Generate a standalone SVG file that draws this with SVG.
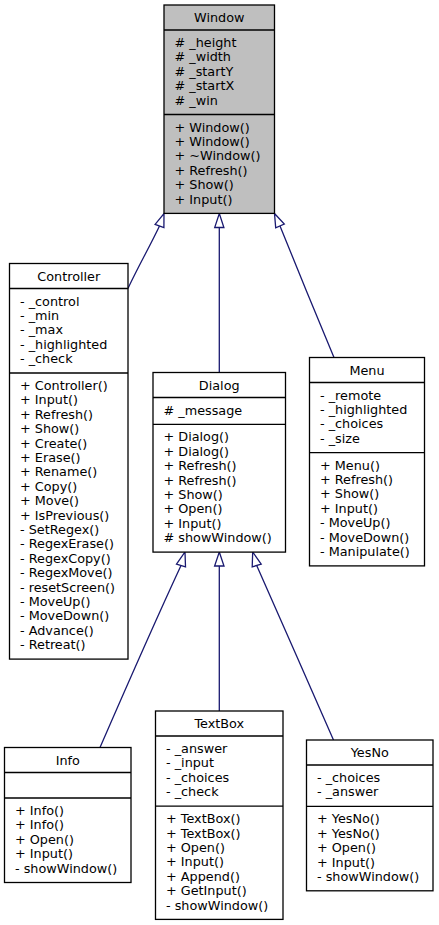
<svg xmlns="http://www.w3.org/2000/svg" width="439" height="925" viewBox="0 0 439 925">
<style>
.box{fill:#fff;stroke:#000;stroke-width:1.3}
.main{fill:#bfbfbf}
.sep{stroke:#000;stroke-width:1.3}
text{font-family:"DejaVu Sans","Liberation Sans",sans-serif;font-size:12.8px;fill:#000}
.t{text-anchor:middle}
.edge{fill:none;stroke:#191970;stroke-width:1.3}
.ah{fill:#fff;stroke:#191970;stroke-width:1.3}
</style>
<rect width="439" height="925" fill="#fff"/>
<g id="connectors">
<path class="edge" d="M128,288.5 C137,269 150,246 159.5,226"/>
<polygon class="ah" points="164,213.5 163.9,227.6 155.1,224.4"/>
<path class="edge" d="M219.3,372.5 L219.3,227.5"/>
<polygon class="ah" points="219.3,213.5 223.9,227.5 214.7,227.5"/>
<path class="edge" d="M334,357.5 C320,324 294,261 280,226"/>
<polygon class="ah" points="274.5,213.5 284.3,224.1 275.7,227.9"/>
<path class="edge" d="M100,747.5 C125,690 165,600 181,565.5"/>
<polygon class="ah" points="185,552 185.5,566.8 176.5,564.2"/>
<path class="edge" d="M219.3,711 L219.3,566"/>
<polygon class="ah" points="219.3,552 224,566 214.6,566"/>
<path class="edge" d="M333.5,740 C313,693 275,607 256.7,565.5"/>
<polygon class="ah" points="252.7,552 261.2,564.2 252.2,566.8"/>
</g>
<g id="node-window">
<rect class="box main" x="164" y="5" width="110.5" height="208.4"/>
<line class="sep" x1="164" y1="30" x2="274.5" y2="30"/>
<line class="sep" x1="164" y1="114.5" x2="274.5" y2="114.5"/>
<text class="t" x="219.25" y="22">Window</text>
<text x="174.5" y="47"># _height</text>
<text x="174.5" y="61.4"># _width</text>
<text x="174.5" y="75.8"># _startY</text>
<text x="174.5" y="90.2"># _startX</text>
<text x="174.5" y="104.6"># _win</text>
<text x="174.5" y="131.5">+ Window()</text>
<text x="174.5" y="145.9">+ Window()</text>
<text x="174.5" y="160.3">+ ~Window()</text>
<text x="174.5" y="174.7">+ Refresh()</text>
<text x="174.5" y="189.1">+ Show()</text>
<text x="174.5" y="203.5">+ Input()</text>
</g>
<g id="node-controller">
<rect class="box" x="9.5" y="263.5" width="118.5" height="395.6"/>
<line class="sep" x1="9.5" y1="288.5" x2="128" y2="288.5"/>
<line class="sep" x1="9.5" y1="373" x2="128" y2="373"/>
<text class="t" x="68.75" y="280.5">Controller</text>
<text x="20" y="305.5">- _control</text>
<text x="20" y="319.9">- _min</text>
<text x="20" y="334.3">- _max</text>
<text x="20" y="348.7">- _highlighted</text>
<text x="20" y="363.1">- _check</text>
<text x="20" y="390">+ Controller()</text>
<text x="20" y="404.4">+ Input()</text>
<text x="20" y="418.8">+ Refresh()</text>
<text x="20" y="433.2">+ Show()</text>
<text x="20" y="447.6">+ Create()</text>
<text x="20" y="462">+ Erase()</text>
<text x="20" y="476.4">+ Rename()</text>
<text x="20" y="490.8">+ Copy()</text>
<text x="20" y="505.2">+ Move()</text>
<text x="20" y="519.6">+ IsPrevious()</text>
<text x="20" y="534">- SetRegex()</text>
<text x="20" y="548.4">- RegexErase()</text>
<text x="20" y="562.8">- RegexCopy()</text>
<text x="20" y="577.2">- RegexMove()</text>
<text x="20" y="591.6">- resetScreen()</text>
<text x="20" y="606">- MoveUp()</text>
<text x="20" y="620.4">- MoveDown()</text>
<text x="20" y="634.8">- Advance()</text>
<text x="20" y="649.2">- Retreat()</text>
</g>
<g id="node-dialog">
<rect class="box" x="153" y="372.5" width="132.5" height="179.6"/>
<line class="sep" x1="153" y1="397.5" x2="285.5" y2="397.5"/>
<line class="sep" x1="153" y1="424.4" x2="285.5" y2="424.4"/>
<text class="t" x="219.25" y="389.5">Dialog</text>
<text x="163.5" y="414.5"># _message</text>
<text x="163.5" y="441.4">+ Dialog()</text>
<text x="163.5" y="455.8">+ Dialog()</text>
<text x="163.5" y="470.2">+ Refresh()</text>
<text x="163.5" y="484.6">+ Refresh()</text>
<text x="163.5" y="499">+ Show()</text>
<text x="163.5" y="513.4">+ Open()</text>
<text x="163.5" y="527.8">+ Input()</text>
<text x="163.5" y="542.2"># showWindow()</text>
</g>
<g id="node-menu">
<rect class="box" x="309.5" y="357.5" width="115" height="208.4"/>
<line class="sep" x1="309.5" y1="382.5" x2="424.5" y2="382.5"/>
<line class="sep" x1="309.5" y1="452.6" x2="424.5" y2="452.6"/>
<text class="t" x="367" y="374.5">Menu</text>
<text x="320" y="399.5">- _remote</text>
<text x="320" y="413.9">- _highlighted</text>
<text x="320" y="428.3">- _choices</text>
<text x="320" y="442.7">- _size</text>
<text x="320" y="469.6">+ Menu()</text>
<text x="320" y="484">+ Refresh()</text>
<text x="320" y="498.4">+ Show()</text>
<text x="320" y="512.8">+ Input()</text>
<text x="320" y="527.2">- MoveUp()</text>
<text x="320" y="541.6">- MoveDown()</text>
<text x="320" y="556">- Manipulate()</text>
</g>
<g id="node-info">
<rect class="box" x="4.5" y="747.5" width="126.5" height="135"/>
<line class="sep" x1="4.5" y1="772.5" x2="131" y2="772.5"/>
<line class="sep" x1="4.5" y1="798" x2="131" y2="798"/>
<text class="t" x="67.75" y="764.5">Info</text>
<text x="15" y="815">+ Info()</text>
<text x="15" y="829.4">+ Info()</text>
<text x="15" y="843.8">+ Open()</text>
<text x="15" y="858.2">+ Input()</text>
<text x="15" y="872.6">- showWindow()</text>
</g>
<g id="node-textbox">
<rect class="box" x="155.5" y="711" width="127.5" height="208.4"/>
<line class="sep" x1="155.5" y1="736" x2="283" y2="736"/>
<line class="sep" x1="155.5" y1="806.1" x2="283" y2="806.1"/>
<text class="t" x="219.25" y="728">TextBox</text>
<text x="166" y="753">- _answer</text>
<text x="166" y="767.4">- _input</text>
<text x="166" y="781.8">- _choices</text>
<text x="166" y="796.2">- _check</text>
<text x="166" y="823.1">+ TextBox()</text>
<text x="166" y="837.5">+ TextBox()</text>
<text x="166" y="851.9">+ Open()</text>
<text x="166" y="866.3">+ Input()</text>
<text x="166" y="880.7">+ Append()</text>
<text x="166" y="895.1">+ GetInput()</text>
<text x="166" y="909.5">- showWindow()</text>
</g>
<g id="node-yesno">
<rect class="box" x="306.5" y="740" width="126.5" height="150.8"/>
<line class="sep" x1="306.5" y1="765" x2="433" y2="765"/>
<line class="sep" x1="306.5" y1="806.3" x2="433" y2="806.3"/>
<text class="t" x="369.75" y="757">YesNo</text>
<text x="317" y="782">- _choices</text>
<text x="317" y="796.4">- _answer</text>
<text x="317" y="823.3">+ YesNo()</text>
<text x="317" y="837.7">+ YesNo()</text>
<text x="317" y="852.1">+ Open()</text>
<text x="317" y="866.5">+ Input()</text>
<text x="317" y="880.9">- showWindow()</text>
</g>
</svg>
